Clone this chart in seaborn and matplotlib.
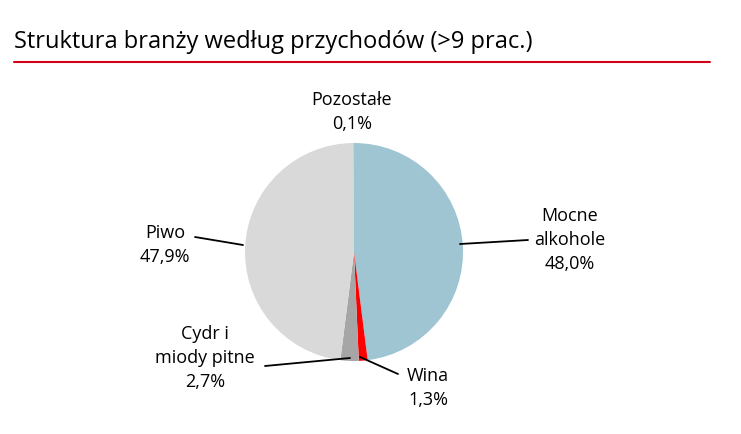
import seaborn as sns
import matplotlib.pyplot as plt

sns.set_style("white")
plt.rcParams['font.family'] = ['Open Sans', 'DejaVu Sans']

labels = ["Mocne\nalkohole", "Wina", "Cydr i\nmiody pitne", "Piwo", "Pozostałe"]
shares = [48.0, 1.3, 2.7, 47.9, 0.1]
colors = ["#9FC5D3", "#FF0000", "#A6A6A6", "#D9D9D9", "#BFBFBF"]
title = "Struktura branży według przychodów (>9 prac.)"

H = 434
fig = plt.figure(figsize=(7.41, 4.34), dpi=100)
ax = fig.add_axes([0, 0, 1, 1])

ax.pie(shares, colors=colors, startangle=90, counterclock=False,
       center=(354, H - 252), radius=109, frame=True,
       wedgeprops=dict(linewidth=0))
ax.set_xlim(0, 741)
ax.set_ylim(0, H)
ax.axis("off")

def pct(v):
    return f"{v:.1f}%".replace(".", ",")

# label placement (pixel coords), leader lines
place = {
    0: ((570, 240), [(460, 244), (528, 240)]),
    1: ((428, 388), [(360, 357), (398, 374)]),
    2: ((205, 358), [(350, 358), (265, 366)]),
    3: ((165, 245), [(195, 237), (243, 245)]),
    4: ((352, 112), None),
}
for i, ((x, y), line) in place.items():
    ax.text(x, H - y, f"{labels[i]}\n{pct(shares[i])}", ha="center", va="center",
            fontsize=13, linespacing=1.4, color="black")
    if line:
        ax.plot([p[0] for p in line], [H - p[1] for p in line], color="black", lw=1.3)

fig.text(14 / 741, 1 - 42 / H, title, fontsize=17, va="center", ha="left", color="black")
ax.plot([14, 710], [H - 62, H - 62], color="#D0021B", lw=1.5)

fig.savefig("out.png", dpi=100)
